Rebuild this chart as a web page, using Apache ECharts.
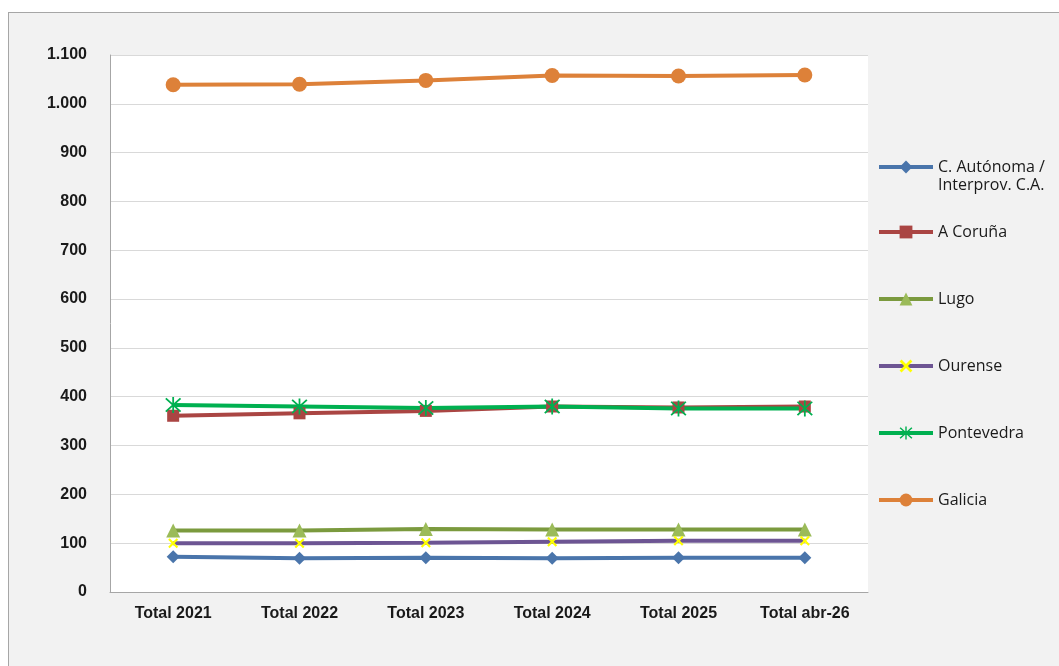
<!DOCTYPE html>
<html>
<head>
    <meta charset="utf-8">
    <title>Galicia</title>
    <script src="https://cdn.jsdelivr.net/npm/echarts@6/dist/echarts.min.js"></script>
    <style>
        html, body { margin: 0; padding: 0; background: #fff; overflow: hidden; }
        #panel {
            position: absolute; left: 8px; top: 12px; width: 1200px; height: 800px;
            background: #f2f2f2; border: 1px solid #a6a6a6;
        }
        #chart { position: absolute; left: 0; top: 0; width: 1059px; height: 666px; }
    </style>
</head>
<body>
    <div id="panel"></div>
    <div id="chart"></div>
    <script>
        var categories = ['Total 2021', 'Total 2022', 'Total 2023', 'Total 2024', 'Total 2025', 'Total abr-26'];
        var autonoma = [72, 69, 70, 69, 70, 70];
        var coruna = [361, 366, 371, 380, 378, 380];
        var lugo = [126, 126, 129, 128, 128, 128];
        var ourense = [100, 100, 101, 103, 105, 105];
        var pontevedra = [383, 380, 377, 380, 376, 376];
        var galicia = [1039, 1040, 1048, 1058, 1057, 1059];
        var yTicks = [0, 100, 200, 300, 400, 500, 600, 700, 800, 900, 1000, 1100];

        var xPath = 'path://M0 3 L3 0 L10 7 L17 0 L20 3 L13 10 L20 17 L17 20 L10 13 L3 20 L0 17 L7 10 Z';
        var starPath = 'path://M9 0 L11 0 L11 20 L9 20 Z M1 2.4 L2.4 1 L19 17.6 L17.6 19 Z M17.6 1 L19 2.4 L2.4 19 L1 17.6 Z';

        var seriesDefs = [
            { name: 'C. Autónoma / Interprov. C.A.', data: autonoma, color: '#4a75ab', mark: '#4a75ab', symbol: 'diamond', size: 13 },
            { name: 'A Coruña', data: coruna, color: '#aa4543', mark: '#aa4543', symbol: 'rect', size: 12 },
            { name: 'Lugo', data: lugo, color: '#7b9a3e', mark: '#9bbb59', symbol: 'triangle', size: 14 },
            { name: 'Ourense', data: ourense, color: '#6d5593', mark: '#ffff00', symbol: xPath, size: 10 },
            { name: 'Pontevedra', data: pontevedra, color: '#00b050', mark: '#00b050', symbol: starPath, size: 16 },
            { name: 'Galicia', data: galicia, color: '#dd8139', mark: '#dd8139', symbol: 'circle', size: 15 }
        ];

        var legendTops = [140, 223, 290, 357, 424, 491];
        var legends = seriesDefs.map(function (s, i) {
            var lg = {
                data: [s.name],
                orient: 'vertical',
                left: 877,
                top: legendTops[i],
                padding: 0,
                itemWidth: 54,
                itemHeight: 16,
                selectedMode: false,
                lineStyle: { width: 4 },
                textStyle: { fontFamily: 'Open Sans', fontSize: 16, color: '#1a1a1a', lineHeight: 18 }
            };
            if (i === 0) {
                // blank first line keeps the icon level with "C. Autónoma /"
                lg.formatter = function () { return ' \nC. Autónoma /\nInterprov. C.A.'; };
            }
            return lg;
        });

        var chart = echarts.init(document.getElementById('chart'));
        chart.setOption({
            animation: false,
            backgroundColor: 'transparent',
            legend: legends,
            grid: {
                left: 110, right: 191, top: 55, bottom: 74,
                show: true, backgroundColor: '#ffffff', borderWidth: 0
            },
            xAxis: {
                type: 'category',
                data: categories,
                boundaryGap: true,
                axisLine: { lineStyle: { color: '#a6a6a6', width: 1 } },
                axisTick: { show: false },
                axisLabel: { fontFamily: 'Liberation Sans', fontWeight: 'bold', fontSize: 16, color: '#1a1a1a', margin: 14 }
            },
            yAxis: {
                type: 'value',
                min: yTicks[0],
                max: yTicks[yTicks.length - 1],
                interval: 100,
                axisLine: { show: true, lineStyle: { color: '#a6a6a6', width: 1 } },
                axisTick: { show: false },
                splitLine: { lineStyle: { color: '#d9d9d9', width: 1 } },
                axisLabel: {
                    fontFamily: 'Liberation Sans', fontWeight: 'bold', fontSize: 16, color: '#1a1a1a', margin: 23,
                    formatter: function (v) { return v >= 1000 ? Math.floor(v / 1000) + '.' + String(v % 1000).padStart(3, '0') : String(v); }
                }
            },
            series: seriesDefs.map(function (s) {
                return {
                    name: s.name,
                    type: 'line',
                    data: s.data,
                    symbol: s.symbol,
                    symbolSize: s.size,
                    showAllSymbol: true,
                    lineStyle: { color: s.color, width: 4 },
                    itemStyle: { color: s.mark, borderWidth: 0 },
                    emphasis: { disabled: true }
                };
            })
        });
    </script>
</body>
</html>
